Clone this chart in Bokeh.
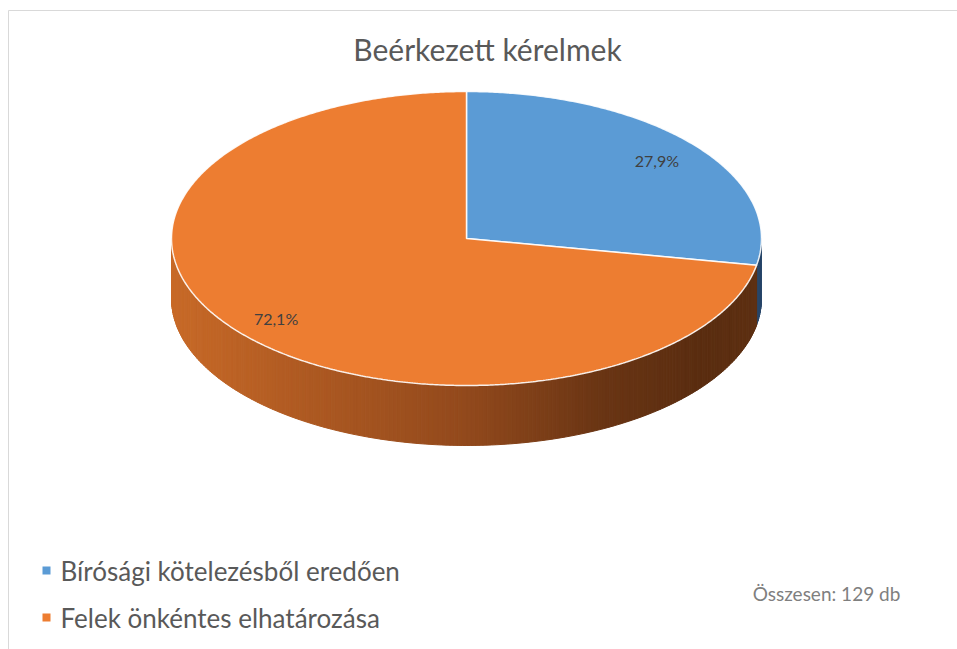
import math
from bokeh.plotting import figure
from bokeh.models import Range1d, Label
from bokeh.core.properties import value
from bokeh.embed import file_html
from bokeh.resources import INLINE

# ---- data ----
title_text = "Beérkezett kérelmek"
categories = ["Bírósági kötelezésből eredően", "Felek önkéntes elhatározása"]
shares = [27.9, 72.1]
total_count = 129
total_label = "Összesen: " + str(total_count) + " db"
top_colors = ["#5B9BD5", "#ED7D31"]

# ---- geometry / style ----
W, H = 957, 649
CX, CY = 466, 238
RX, RY = 295, 147
DEPTH = 60
LABEL_R = 0.84
FONT = "Lato"

# side-wall gradient stops (x position -> rgb) per slice
side_stops = [
    [(171, (60, 95, 135)), (700, (45, 75, 110)), (761, (40, 70, 105))],
    [(171, (200, 106, 40)), (300, (175, 90, 34)), (466, (146, 73, 28)),
     (600, (106, 53, 20)), (700, (90, 45, 16)), (761, (94, 48, 18))],
]


def grad(stops, x):
    if x <= stops[0][0]:
        c = stops[0][1]
    elif x >= stops[-1][0]:
        c = stops[-1][1]
    else:
        for (x0, c0), (x1, c1) in zip(stops[:-1], stops[1:]):
            if x0 <= x <= x1:
                t = (x - x0) / (x1 - x0)
                c = tuple(c0[k] + (c1[k] - c0[k]) * t for k in range(3))
                break
    return "#%02x%02x%02x" % tuple(int(round(v)) for v in c)


def pt(deg):
    a = math.radians(deg)
    return CX + RX * math.cos(a), CY - RY * math.sin(a)


# slice angle spans (start at 12 o'clock, clockwise)
spans = []
start = 90.0
for s in shares:
    end = start - 360.0 * s / 100.0
    spans.append((start, end))
    start = end

p = figure(width=W, height=H, x_range=Range1d(0, W), y_range=Range1d(H, 0),
           output_backend="svg", toolbar_location=None,
           x_axis_location=None, y_axis_location=None, min_border=0)
p.grid.visible = False
p.outline_line_color = None
p.background_fill_color = "white"
p.border_fill_color = "white"

# chart-area border (left and top lines)
p.line([8, 8, W + 5], [H + 5, 10, 10], line_color="#D9D9D9", line_width=1)

# ---- side walls ----
xs_side, ys_side, c_side = [], [], []
for i, (a0, a1) in enumerate(spans):
    lo, hi = min(a0, a1), max(a0, a1)
    for shift in (0, -360, 360):
        vlo, vhi = max(lo + shift, -180.0), min(hi + shift, 0.0)
        if vhi <= vlo:
            continue
        n = max(2, int((vhi - vlo) / 0.8))
        for k in range(n):
            t0 = vlo + (vhi - vlo) * k / n
            t1 = vlo + (vhi - vlo) * (k + 1) / n
            x0, y0 = pt(t0)
            x1, y1 = pt(t1)
            xs_side.append([x0, x1, x1, x0])
            ys_side.append([y0, y1, y1 + DEPTH, y0 + DEPTH])
            c_side.append(grad(side_stops[i], (x0 + x1) / 2))
p.patches(xs_side, ys_side, fill_color=c_side, line_color=c_side, line_width=1)

# ---- top faces ----
xs_top, ys_top = [], []
for a0, a1 in spans:
    n = max(4, int(abs(a0 - a1) / 0.5))
    xs, ys = [CX], [CY]
    for k in range(n + 1):
        x, y = pt(a0 + (a1 - a0) * k / n)
        xs.append(x)
        ys.append(y)
    xs_top.append(xs)
    ys_top.append(ys)
p.patches(xs_top, ys_top, fill_color=top_colors, line_color="white",
          line_width=1.5, line_alpha=0.9)

# ---- data labels ----
lx, ly, lt = [], [], []
for (a0, a1), s in zip(spans, shares):
    mid = (a0 + a1) / 2
    a = math.radians(mid)
    lx.append(CX + LABEL_R * RX * math.cos(a))
    ly.append(CY - LABEL_R * RY * math.sin(a) + 1)
    lt.append(("%.1f%%" % s).replace(".", ","))
p.text(x=lx, y=ly, text=lt, text_font=value(FONT), text_font_size="16px",
       text_color="#404040", text_align="center", text_baseline="middle")

# ---- title ----
p.add_layout(Label(x=487, y=48, text=title_text, text_font=FONT,
                   text_font_size="30px", text_color="#595959",
                   text_align="center", text_baseline="middle"))

# ---- legend ----
leg_y = [570, 617]
p.scatter(x=[46, 46], y=leg_y, marker="square", size=8, fill_color=top_colors,
          line_color=None)
p.text(x=[60, 60], y=leg_y, text=categories, text_font=value(FONT),
       text_font_size="26px", text_color="#595959", text_align="left",
       text_baseline="middle")

# ---- total ----
p.add_layout(Label(x=826, y=593, text=total_label, text_font=FONT,
                   text_font_size="19px", text_color="#7F7F7F",
                   text_align="center", text_baseline="middle"))

open("out.html", "w").write(file_html(p, INLINE))
